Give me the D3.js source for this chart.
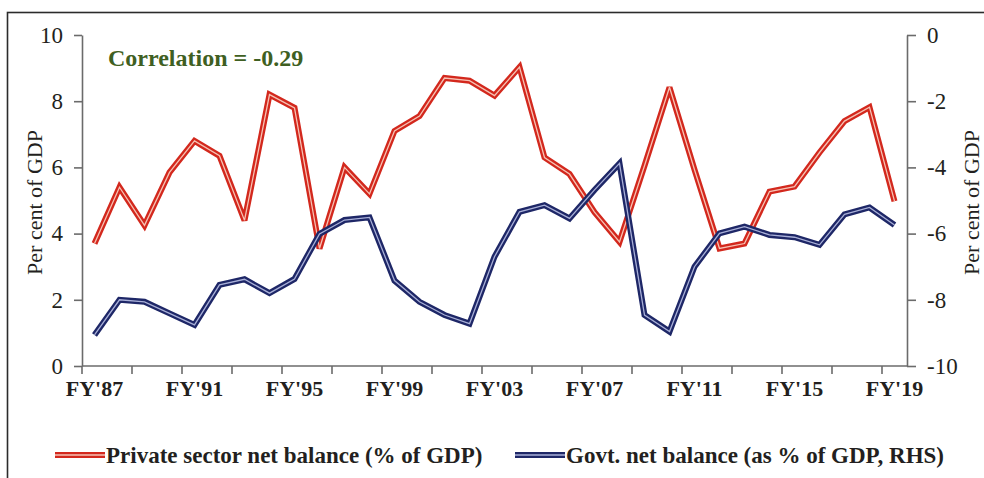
<!DOCTYPE html>
<html>
<head>
<meta charset="utf-8">
<script src="https://cdn.jsdelivr.net/npm/d3@7/dist/d3.min.js"></script>
<style>
  html, body { margin: 0; padding: 0; background: #ffffff; }
  svg { display: block; }
  text { font-family: "Liberation Serif", "Times New Roman", serif; fill: #231f20; }
</style>
</head>
<body>
<svg id="chart" width="984" height="478"></svg>
<script>
// Fiscal years on the category axis
const years = ["FY'87","FY'88","FY'89","FY'90","FY'91","FY'92","FY'93","FY'94","FY'95","FY'96",
  "FY'97","FY'98","FY'99","FY'00","FY'01","FY'02","FY'03","FY'04","FY'05","FY'06",
  "FY'07","FY'08","FY'09","FY'10","FY'11","FY'12","FY'13","FY'14","FY'15","FY'16",
  "FY'17","FY'18","FY'19"];

// Private sector net balance, % of GDP (left axis)
const privateBalance = [3.7, 5.4, 4.25, 5.85, 6.8, 6.35, 4.4, 8.2, 7.8, 3.55,
  6.0, 5.2, 7.1, 7.55, 8.7, 8.62, 8.17, 9.03, 6.3, 5.8,
  4.65, 3.75, 6.05, 8.42, 5.93, 3.55, 3.7, 5.27, 5.42, 6.45,
  7.4, 7.82, 4.98];

// Government net balance, % of GDP (right axis)
const govtBalance = [-9.06, -8.0, -8.06, -8.41, -8.76, -7.55, -7.38, -7.8, -7.37, -6.01,
  -5.59, -5.51, -7.42, -8.06, -8.46, -8.72, -6.7, -5.34, -5.14, -5.54,
  -4.68, -3.88, -8.46, -8.96, -7.0, -5.99, -5.79, -6.04, -6.11, -6.34,
  -5.42, -5.21, -5.74];

const xLabels = ["FY'87","FY'91","FY'95","FY'99","FY'03","FY'07","FY'11","FY'15","FY'19"];
const leftTicks = [0, 2, 4, 6, 8, 10];
const rightTicks = [-10, -8, -6, -4, -2, 0];
const correlationText = "Correlation = -0.29";
const seriesNames = ["Private sector net balance (% of GDP)", "Govt. net balance (as % of GDP, RHS)"];

const svg = d3.select("#chart");
const plot = { left: 82, right: 907, top: 35, bottom: 366 };

// outer frame
svg.append("rect")
  .attr("x", 7.5).attr("y", 12.5).attr("width", 990).attr("height", 490)
  .attr("fill", "#ffffff").attr("stroke", "#2b2b2b").attr("stroke-width", 1.6);

const x = d3.scaleBand().domain(years).range([plot.left, plot.right]).padding(0);
const yL = d3.scaleLinear().domain([0, 10]).range([plot.bottom, plot.top]);
const yR = d3.scaleLinear().domain([-10, 0]).range([plot.bottom, plot.top]);

const axisColor = "#6b6b6b";
const plainNumber = d => String(d);   // hyphen-minus, as printed on the axes

// left axis
const gL = svg.append("g").attr("transform", `translate(${plot.left},0)`)
  .call(d3.axisLeft(yL).tickValues(leftTicks).tickFormat(plainNumber)
    .tickSize(8).tickPadding(11).tickSizeOuter(0));
// right axis
const gR = svg.append("g").attr("transform", `translate(${plot.right},0)`)
  .call(d3.axisRight(yR).tickValues(rightTicks).tickFormat(plainNumber)
    .tickSize(9).tickPadding(11).tickSizeOuter(0));
[gL, gR].forEach(g => {
  g.select(".domain").attr("stroke", axisColor).attr("stroke-width", 1.6);
  g.selectAll(".tick line").attr("stroke", axisColor).attr("stroke-width", 1.6);
  g.selectAll(".tick text").attr("font-size", 23).attr("fill", "#231f20")
    .style("font-family", "'Liberation Serif', serif");
});

// bottom axis: labels centred on every fourth year, ticks between every second category
const gB = svg.append("g").attr("transform", `translate(0,${plot.bottom})`)
  .call(d3.axisBottom(x).tickValues(xLabels).tickSize(0).tickPadding(14));
gB.select(".domain").remove();
gB.selectAll(".tick text").attr("font-size", 22).attr("font-weight", "bold")
  .attr("fill", "#231f20").style("font-family", "'Liberation Serif', serif");
svg.append("line")
  .attr("x1", plot.left).attr("x2", plot.right)
  .attr("y1", plot.bottom).attr("y2", plot.bottom)
  .attr("stroke", axisColor).attr("stroke-width", 1.6);
svg.append("g").selectAll("line")
  .data(years.filter((d, i) => i % 2 === 0))
  .join("line")
  .attr("x1", d => x(d)).attr("x2", d => x(d))
  .attr("y1", plot.bottom).attr("y2", plot.bottom + 8)
  .attr("stroke", axisColor).attr("stroke-width", 1.6);

// axis titles
svg.append("text")
  .attr("transform", `translate(42,${(plot.top + plot.bottom) / 2 + 2}) rotate(-90)`)
  .attr("text-anchor", "middle").attr("font-size", 22).text("Per cent of GDP");
svg.append("text")
  .attr("transform", `translate(979,${(plot.top + plot.bottom) / 2 + 2}) rotate(-90)`)
  .attr("text-anchor", "middle").attr("font-size", 22).text("Per cent of GDP");

// correlation note
svg.append("text")
  .attr("x", 108).attr("y", 66)
  .attr("font-size", 24).attr("font-weight", "bold")
  .style("fill", "#3f5f22").text(correlationText);

// double-stroke lines
const series = [
  { values: privateBalance, y: yL, outer: "#d3281d", inner: "#f6c2b4" },
  { values: govtBalance, y: yR, outer: "#1e2767", inner: "#a9b0d8" }
];
series.forEach(s => {
  const line = d3.line()
    .x((d, i) => x(years[i]) + x.bandwidth() / 2)
    .y(d => s.y(d));
  svg.append("path").datum(s.values)
    .attr("d", line).attr("fill", "none")
    .attr("stroke", s.outer).attr("stroke-width", 6)
    .attr("stroke-linejoin", "miter").attr("stroke-miterlimit", 3);
  svg.append("path").datum(s.values)
    .attr("d", line).attr("fill", "none")
    .attr("stroke", s.inner).attr("stroke-width", 1.3)
    .attr("stroke-linejoin", "miter").attr("stroke-miterlimit", 3);
});

// legend
const legendY = 455;
const legendItems = [
  { name: seriesNames[0], x0: 55, outer: series[0].outer, inner: series[0].inner },
  { name: seriesNames[1], x0: 515, outer: series[1].outer, inner: series[1].inner }
];
const lg = svg.append("g").selectAll("g").data(legendItems).join("g");
lg.append("line")
  .attr("x1", d => d.x0).attr("x2", d => d.x0 + 50)
  .attr("y1", legendY).attr("y2", legendY)
  .attr("stroke", d => d.outer).attr("stroke-width", 6);
lg.append("line")
  .attr("x1", d => d.x0).attr("x2", d => d.x0 + 50)
  .attr("y1", legendY).attr("y2", legendY)
  .attr("stroke", d => d.inner).attr("stroke-width", 1.3);
lg.append("text")
  .attr("x", d => d.x0 + 51).attr("y", legendY + 8)
  .attr("font-size", 23).attr("font-weight", "bold")
  .text(d => d.name);
</script>
</body>
</html>
